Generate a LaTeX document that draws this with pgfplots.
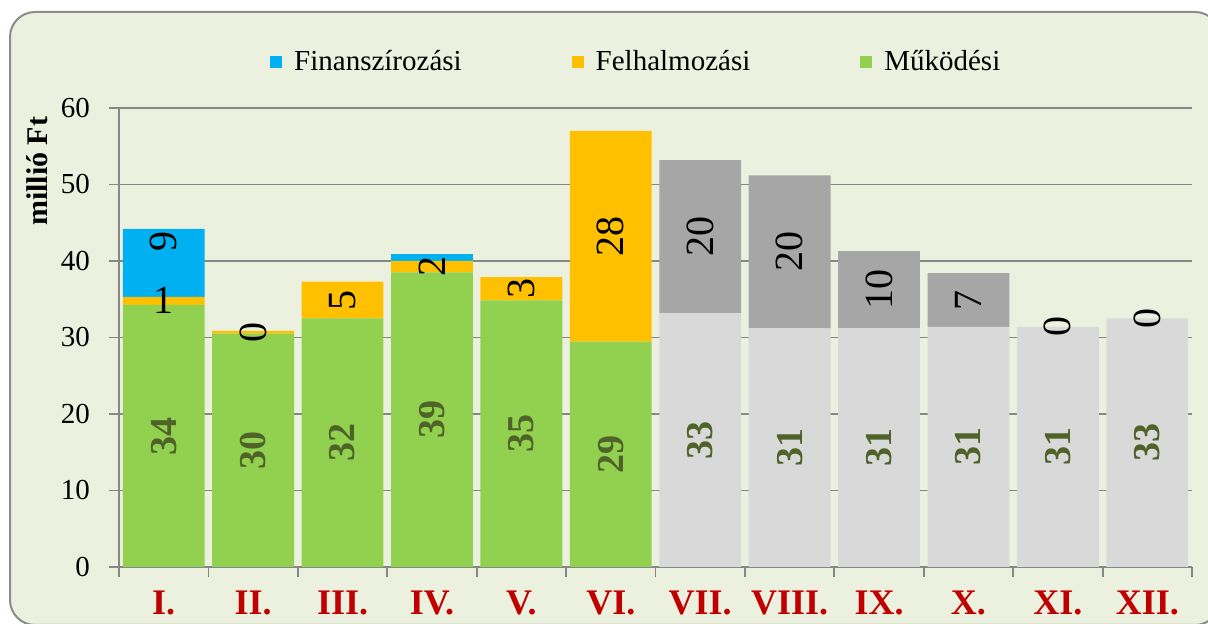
\documentclass[border=0pt]{standalone}
\usepackage{fontspec}
\setmainfont{Liberation Serif}
\usepackage{pgfplots}
\pgfplotsset{compat=1.18}
\definecolor{cGreen}{HTML}{92D050}
\definecolor{cOrange}{HTML}{FFC000}
\definecolor{cBlue}{HTML}{00B0F0}
\definecolor{cLGray}{HTML}{D9D9D9}
\definecolor{cDGray}{HTML}{A6A6A6}
\definecolor{cBg}{HTML}{EBF1DE}
\definecolor{cFrame}{HTML}{8C8C8C}
\definecolor{cGrid}{HTML}{878787}
\definecolor{cLbl}{HTML}{4F6228}
\definecolor{cRed}{HTML}{C00000}
\begin{document}
\begin{tikzpicture}
\useasboundingbox (0,0) rectangle (604pt,312pt);
\clip (0,0) rectangle (604pt,312pt);
\fill[white] (0,0) rectangle (604pt,312pt);
\draw[cFrame, line width=1pt, fill=cBg, rounded corners=12.5pt] (5pt,-0.5pt) rectangle (610pt,306pt);
\pgfplotsset{
  base/.style={
    at={(59.5pt,28.5pt)}, anchor=south west,
    scale only axis, width=536.5pt, height=229.5pt,
    xmin=-0.5, xmax=11.5, ymin=0, ymax=60,
  }
}
\begin{axis}[base,
  ybar stacked, bar width=0.915,
  axis lines=left, axis line style={-, cGrid, line width=0.9pt},
  tick align=outside, major tick length=5pt,
  tick style={cGrid, line width=0.9pt},
  ytick={0,10,...,60},
  ymajorgrids, grid style={cGrid, line width=0.9pt},
  xtick={-0.5,0.5,...,11.5}, xticklabels={},
  extra x ticks={0,1,...,11},
  extra x tick labels={I.,II.,III.,IV.,V.,VI.,VII.,VIII.,IX.,X.,XI.,XII.},
  extra x tick style={major tick length=0pt},
  xticklabel style={font=\bfseries\fontsize{18}{18}\selectfont, text=cRed, anchor=base, yshift=-24pt},
  yticklabel style={font=\fontsize{14.5}{17}\selectfont, anchor=east, xshift=-6pt},
  /pgf/number format/assume math mode=true,
  ylabel={millió Ft},
  ylabel style={at={(axis description cs:-0.0765,0.862)}, anchor=center, font=\bfseries\fontsize{15}{18}\selectfont},
  legend columns=3, reverse legend,
  legend image code/.code={\fill[#1] (0pt,-3pt) rectangle (6pt,3pt);},
  legend style={at={(0.483,1.1),}, anchor=center, draw=none, fill=none,
    /tikz/every odd column/.append style={column sep=4pt},
    /tikz/every even column/.append style={column sep=53pt},
    font=\fontsize{14.5}{17}\selectfont},
]
\addplot[fill=cGreen, draw=none] coordinates {(0,34.25) (1,30.5) (2,32.5) (3,38.5) (4,34.85) (5,29.45) (6,0) (7,0) (8,0) (9,0) (10,0) (11,0)};
\addlegendentry{Működési}
\addplot[fill=cLGray, draw=none, forget plot] coordinates {(0,0) (1,0) (2,0) (3,0) (4,0) (5,0) (6,33.2) (7,31.2) (8,31.2) (9,31.4) (10,31.4) (11,32.5)};
\addplot[fill=cOrange, draw=none] coordinates {(0,1.05) (1,0.35) (2,4.8) (3,1.5) (4,3.05) (5,27.55) (6,0) (7,0) (8,0) (9,0) (10,0) (11,0)};
\addlegendentry{Felhalmozási}
\addplot[fill=cDGray, draw=none, forget plot] coordinates {(0,0) (1,0) (2,0) (3,0) (4,0) (5,0) (6,20) (7,20) (8,10.1) (9,7.0) (10,0) (11,0)};
\addplot[fill=cBlue, draw=none] coordinates {(0,8.9) (1,0) (2,0) (3,0.9) (4,0) (5,0) (6,0) (7,0) (8,0) (9,0) (10,0) (11,0)};
\addlegendentry{Finanszírozási}
\end{axis}
\begin{axis}[base, hide axis, clip=false]
\addplot[draw=none, nodes near coords, point meta=explicit symbolic,
  every node near coord/.append style={anchor=center, rotate=90, text=cLbl, font=\bfseries\fontsize{19}{19}\selectfont}]
  coordinates {(0,17.1)[34] (1,15.25)[30] (2,16.25)[32] (3,19.25)[39] (4,17.4)[35] (5,14.7)[29] (6,16.6)[33] (7,15.6)[31] (8,15.6)[31] (9,15.7)[31] (10,15.7)[31] (11,16.3)[33]};
\addplot[draw=none, nodes near coords, point meta=explicit symbolic,
  every node near coord/.append style={anchor=center, rotate=90, text=black, font=\fontsize{20}{20}\selectfont}]
  coordinates {(0,42.6)[9] (1,30.7)[0] (2,34.9)[5] (3,39.3)[2] (4,36.4)[3] (5,43.2)[28] (6,43.2)[20] (7,41.2)[20] (8,36.3)[10] (9,34.9)[7] (10,31.4)[0] (11,32.5)[0]};
\addplot[draw=none, nodes near coords, point meta=explicit symbolic,
  every node near coord/.append style={anchor=center, text=black, font=\fontsize{20}{20}\selectfont}]
  coordinates {(0,34.8)[1]};
\end{axis}
\end{tikzpicture}
\end{document}
